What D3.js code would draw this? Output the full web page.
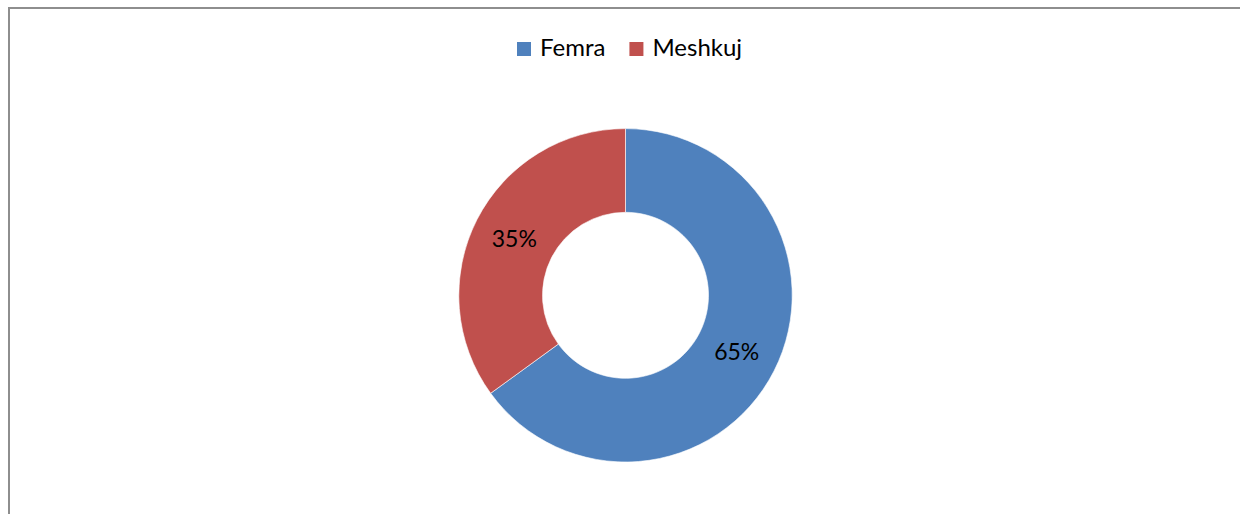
<!DOCTYPE html>
<html>
<head>
<meta charset="utf-8">
<script src="https://cdn.jsdelivr.net/npm/d3@7"></script>
<style>
  body { margin: 0; background: #fff; }
  svg { display: block; font-family: Lato, "Open Sans", sans-serif; }
</style>
</head>
<body>
<div id="chart"></div>
<script>
"use strict";

// data
var categories = ["Femra", "Meshkuj"];
var values = [65, 35];
var colors = ["#4F81BD", "#C0504D"];

var width = 1240, height = 514;

var svg = d3.select("#chart").append("svg")
  .attr("width", width)
  .attr("height", height);

// chart frame (runs off the right/bottom edge like the screenshot)
svg.append("rect")
  .attr("x", 9)
  .attr("y", 8)
  .attr("width", 1300)
  .attr("height", 600)
  .attr("fill", "#fff")
  .attr("stroke", "#8e8e8e")
  .attr("stroke-width", 2);

var cx = 625.5, cy = 295.3,
  outerR = 166.7, innerR = 83;

var pie = d3.pie().sort(null).value(function(d) { return d; });
var arc = d3.arc().innerRadius(innerR).outerRadius(outerR);

var z = d3.scaleOrdinal().domain(categories).range(colors);
var arcs = pie(values);

var g = svg.append("g").attr("transform", "translate(" + cx + "," + cy + ")");

g.selectAll("path")
  .data(arcs)
  .enter().append("path")
  .attr("d", arc)
  .attr("fill", function(d, i) { return z(categories[i]); })
  .attr("stroke", "#fff")
  .attr("stroke-width", 0.6);

var total = d3.sum(values);
g.selectAll("text.lbl")
  .data(arcs)
  .enter().append("text")
  .attr("class", "lbl")
  .attr("transform", function(d) { var c = arc.centroid(d); return "translate(" + c[0] + "," + (c[1] + 8) + ")"; })
  .attr("text-anchor", "middle")
  .attr("font-size", 23)
  .attr("fill", "#000")
  .text(function(d) { return Math.round(d.value / total * 100) + "%"; });

// legend
var legend = svg.append("g").attr("transform", "translate(517,0)");
var lx = 0;
categories.forEach(function(name, i) {
  var item = legend.append("g").attr("transform", "translate(" + lx + ",0)");
  item.append("rect")
    .attr("x", 0).attr("y", 42)
    .attr("width", 14).attr("height", 14)
    .attr("fill", z(name));
  var t = item.append("text")
    .attr("x", 23).attr("y", 56)
    .attr("font-size", 24)
    .attr("fill", "#000")
    .text(name);
  lx += 23 + t.node().getComputedTextLength() + 24;
});
</script>
</body>
</html>
